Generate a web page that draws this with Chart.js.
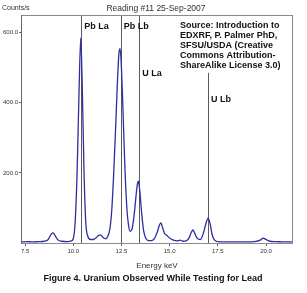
<!DOCTYPE html>
<html>
<head>
<meta charset="utf-8">
<script src="https://cdn.jsdelivr.net/npm/chart.js@4"></script>
<style>
  html, body { margin: 0; padding: 0; background: #fff; }
  #wrap { width: 307px; height: 293px; }
</style>
</head>
<body>
<div id="wrap"><canvas id="spectrum" width="307" height="293"></canvas></div>
<script>
// spectrum (keV, counts/s)
const energy = [7.29, 7.6, 7.9, 8.2, 8.5, 8.7, 8.82, 8.95, 9.05, 9.2, 9.4, 9.7, 9.9,
  10.0, 10.1, 10.2, 10.3, 10.39, 10.47, 10.56, 10.65, 10.75, 10.9, 11.05, 11.2, 11.3, 11.39, 11.48, 11.58, 11.68,
  11.8, 11.9, 12.0, 12.1, 12.2, 12.3, 12.37, 12.43, 12.5, 12.58, 12.67, 12.77, 12.87, 12.95,
  13.05, 13.15, 13.25, 13.32, 13.38, 13.45, 13.55, 13.65, 13.78, 13.9,
  14.05, 14.2, 14.35, 14.48, 14.55, 14.63, 14.73, 14.85, 15.0, 15.2, 15.4, 15.55, 15.7, 15.85,
  16.0, 16.12, 16.21, 16.3, 16.45, 16.6, 16.75, 16.88, 17.0, 17.1, 17.2, 17.33, 17.5,
  17.9, 18.4, 18.9, 19.4, 19.7, 19.85, 20.0, 20.2, 20.5, 21.0, 21.4];
const counts = [3, 4, 3, 4, 5, 10, 22, 29, 22, 9, 5, 4, 6,
  12, 60, 200, 430, 585, 440, 200, 60, 20, 10, 10, 16, 21, 23, 20, 14, 12,
  20, 40, 95, 200, 330, 470, 540, 554, 500, 380, 230, 110, 50, 33,
  40, 75, 130, 165, 176, 150, 85, 35, 12, 7,
  7, 12, 30, 52, 57, 45, 28, 22, 14, 8, 6, 8, 5, 6,
  14, 30, 37, 28, 12, 10, 28, 55, 71, 55, 25, 8, 4,
  3, 3, 3, 4, 8, 14, 10, 5, 4, 3, 3];

const xTicks = [7.5, 10.0, 12.5, 15.0, 17.5, 20.0];
const yTicks = [200, 400, 600];

// element lines
const lineKeV = [10.41, 12.47, 13.43, 16.99];
const lineNames = ['Pb La', 'Pb Lb', 'U La', 'U Lb'];
const lineTop = [655, 655, 655, 485];
const labelCounts = [616, 616, 482, 410];

const sourceText = ['Source: Introduction to', 'EDXRF, P. Palmer PhD,', 'SFSU/USDA (Creative',
  'Commons Attribution-', 'ShareAlike License 3.0)'];

const pts = energy.map((e, i) => ({ x: e, y: counts[i] }));

const decor = {
  id: 'decor',
  beforeDatasetsDraw(chart) {
    const { ctx, chartArea: a, scales: { x, y } } = chart;
    ctx.save();
    ctx.strokeStyle = '#5a5a5a';
    ctx.lineWidth = 1;
    lineKeV.forEach((k, i) => {
      const px = Math.round(x.getPixelForValue(k)) + 0.5;
      ctx.beginPath();
      ctx.moveTo(px, Math.max(a.top, y.getPixelForValue(lineTop[i])));
      ctx.lineTo(px, a.bottom);
      ctx.stroke();
    });
    ctx.restore();
  },
  afterDraw(chart) {
    const { ctx, chartArea: a, scales: { x, y } } = chart;
    ctx.save();
    // frame
    ctx.strokeStyle = '#8a8a8a';
    ctx.lineWidth = 1;
    ctx.strokeRect(a.left + 0.5, a.top + 0.5, a.right - a.left - 1, a.bottom - a.top);
    ctx.strokeStyle = '#666';
    ctx.beginPath();
    ctx.moveTo(a.left + 0.5, a.top);
    ctx.lineTo(a.left + 0.5, a.bottom + 1);
    ctx.stroke();

    // element labels
    ctx.fillStyle = '#111';
    ctx.font = 'bold 9px "Liberation Sans", Arial, sans-serif';
    ctx.textBaseline = 'middle';
    ctx.textAlign = 'left';
    lineKeV.forEach((k, i) => {
      ctx.fillText(lineNames[i], x.getPixelForValue(k) + 3, y.getPixelForValue(labelCounts[i]));
    });

    // source block
    ctx.font = 'bold 9px "Liberation Sans", Arial, sans-serif';
    sourceText.forEach((t, i) => ctx.fillText(t, 180, 26 + i * 10));

    // header texts
    ctx.fillStyle = '#333';
    ctx.font = '8.5px "Liberation Sans", Arial, sans-serif';
    ctx.textAlign = 'center';
    ctx.fillText('Reading #11 25-Sep-2007', 156, 9);
    ctx.textAlign = 'left';
    ctx.font = '7px "Liberation Sans", Arial, sans-serif';
    ctx.fillText('Counts/s', 2, 8);

    // caption
    ctx.fillStyle = '#111';
    ctx.textAlign = 'center';
    ctx.font = 'bold 9px "Liberation Sans", Arial, sans-serif';
    ctx.fillText('Figure 4. Uranium Observed While Testing for Lead', 153, 279);
    ctx.restore();
  }
};

new Chart(document.getElementById('spectrum'), {
  type: 'line',
  data: {
    datasets: [{
      data: pts,
      borderColor: '#2e2ea0',
      borderWidth: 1.3,
      pointRadius: 0,
      cubicInterpolationMode: 'monotone',
      fill: false
    }]
  },
  options: {
    responsive: false,
    animation: false,
    layout: { padding: { top: 15, right: 14, bottom: 22, left: 0 } },
    plugins: { legend: { display: false }, tooltip: { enabled: false } },
    scales: {
      x: {
        type: 'linear',
        min: 7.29,
        max: 21.4,
        afterBuildTicks: s => { s.ticks = xTicks.map(v => ({ value: v })); },
        afterFit: s => { s.height = 28; },
        grid: { drawOnChartArea: false, tickLength: 3, color: '#666' },
        border: { display: false },
        ticks: {
          color: '#333', padding: 2, maxRotation: 0, autoSkip: false,
          font: { size: 6, family: '"Liberation Sans", Arial, sans-serif' },
          callback: v => v.toFixed(1)
        },
        title: {
          display: true, text: 'Energy keV', color: '#333', padding: 0,
          font: { size: 8, family: '"Liberation Sans", Arial, sans-serif' }
        }
      },
      y: {
        min: 0,
        max: 650,
        afterBuildTicks: s => { s.ticks = yTicks.map(v => ({ value: v })); },
        afterFit: s => { s.width = 21; },
        grid: { drawOnChartArea: false, tickLength: 2, color: '#666' },
        border: { display: false },
        ticks: {
          color: '#333', padding: 1,
          font: { size: 6, family: '"Liberation Sans", Arial, sans-serif' },
          callback: v => v.toFixed(1)
        }
      }
    }
  },
  plugins: [decor]
});
</script>
</body>
</html>
